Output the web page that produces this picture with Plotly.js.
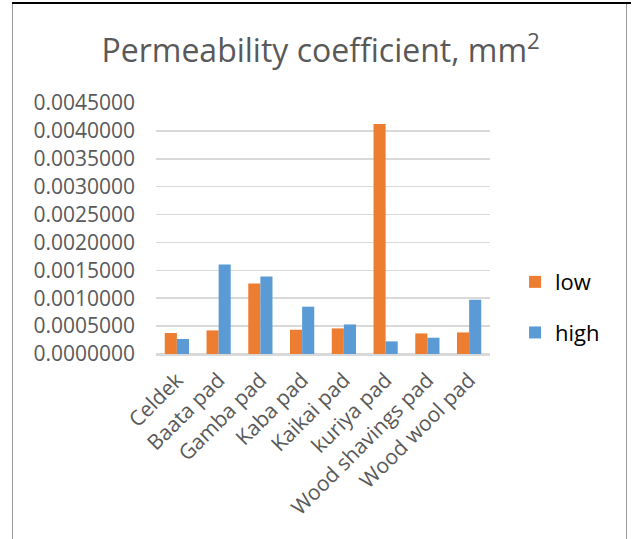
<!DOCTYPE html>
<html>
<head>
<meta charset="utf-8">
<script src="https://cdn.plot.ly/plotly-3.0.1.min.js"></script>
<style>
  html, body { margin: 0; padding: 0; background: #ffffff; }
  #wrap { position: relative; width: 635px; height: 539px; overflow: hidden; }
  #chart { position: absolute; left: 0; top: 0; width: 635px; height: 539px; }
  .ln { position: absolute; }
</style>
</head>
<body>
<div id="wrap">
  <div class="ln" style="left:12px; top:2px; width:619px; height:2px; background:#000;"></div>
  <div class="ln" style="left:12px; top:4px; width:1px; height:535px; background:#9a9a9a;"></div>
  <div class="ln" style="left:626px; top:4px; width:1px; height:535px; background:#9a9a9a;"></div>
  <div id="chart"></div>
</div>
<script>
const categories = ["Celdek", "Baata pad", "Gamba pad", "Kaba pad", "Kaikai pad", "kuriya pad", "Wood shavings pad", "Wood wool pad"];
const lowValues  = [0.000376, 0.000423, 0.001265, 0.000435, 0.000459, 0.004122, 0.000369, 0.000387];
const highValues = [0.000269, 0.001606, 0.001390, 0.000848, 0.000530, 0.000226, 0.000292, 0.000973];
const seriesNames = ["low", "high"];
const yTicks = [0, 0.0005, 0.001, 0.0015, 0.002, 0.0025, 0.003, 0.0035, 0.004, 0.0045];

const textColor = "#595959";
const fontFamily = "'Open Sans', sans-serif";

const traces = [
  { type: "bar", name: seriesNames[0], x: categories, y: lowValues, legendgroup: "a",
    marker: { color: "#ED7D31" } },
  { type: "bar", name: seriesNames[1], x: categories, y: highValues, legendgroup: "b",
    marker: { color: "#5B9BD5" } }
];

const layout = {
  width: 635, height: 539,
  paper_bgcolor: "rgba(0,0,0,0)", plot_bgcolor: "rgba(0,0,0,0)",
  margin: { l: 156, r: 145, t: 103, b: 185 },
  font: { family: fontFamily, color: textColor, size: 21 },
  title: { text: "Permeability coefficient, mm<sup>2</sup>", x: 0.505, xanchor: "center",
           y: 0.905, yanchor: "middle", font: { size: 32, color: textColor, family: fontFamily } },
  barmode: "group", bargap: 0.42, bargroupgap: 0,
  xaxis: { type: "category", tickangle: -45, showgrid: false, showline: true,
           linecolor: "#d9d9d9", linewidth: 1.5, ticks: "", ticklabelstandoff: 4,
           tickfont: { size: 21, color: textColor } },
  yaxis: { range: [0, 0.0045], tickvals: yTicks, tickformat: ".7f", showgrid: true,
           gridcolor: "#d9d9d9", gridwidth: 1.5, zeroline: true, zerolinecolor: "#d9d9d9",
           zerolinewidth: 1.5, ticks: "", ticklabelstandoff: 20, tickfont: { size: 21, color: textColor } },
  legend: { x: 1.075, xanchor: "left", y: 0.185, yanchor: "middle", tracegroupgap: 19,
            font: { size: 22, color: "#000000" }, bgcolor: "rgba(0,0,0,0)" },
  showlegend: true
};

Plotly.newPlot("chart", traces, layout, { displayModeBar: false, staticPlot: true });
</script>
</body>
</html>
